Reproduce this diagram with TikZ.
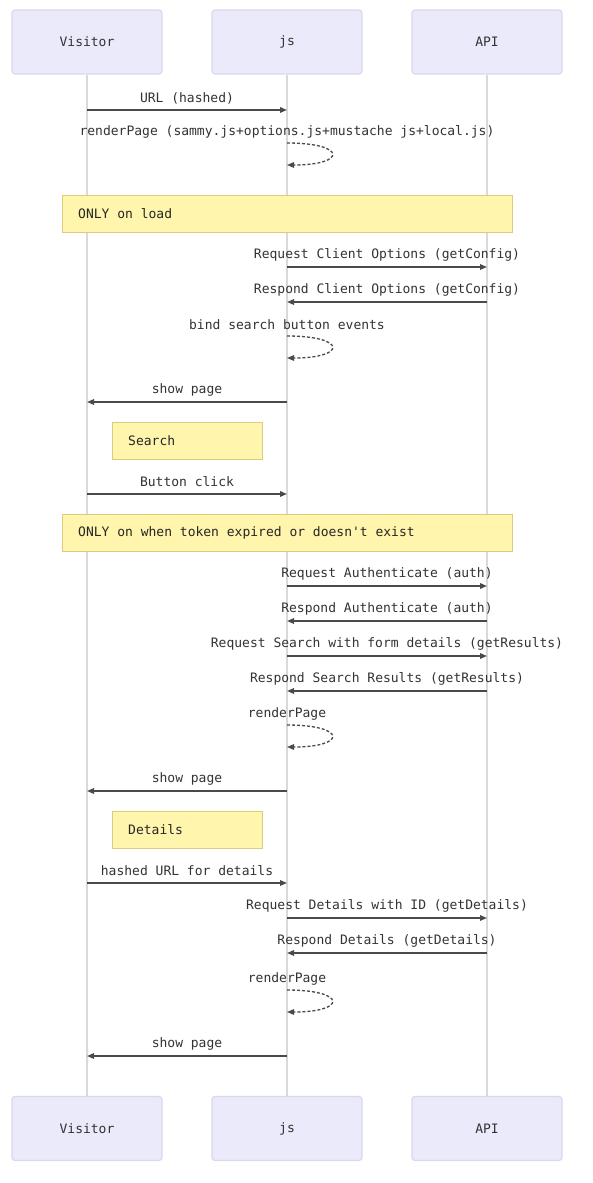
\documentclass[tikz,border=0pt]{standalone}
\usepackage{fontspec}
\setmonofont{DejaVu Sans Mono}
\usetikzlibrary{arrows.meta}
\definecolor{actfill}{HTML}{EAEAFB}
\definecolor{actdraw}{HTML}{D8D8EE}
\definecolor{notefill}{HTML}{FFF5AD}
\definecolor{notedraw}{HTML}{D9CD7C}
\definecolor{lifec}{HTML}{D9D9D9}
\definecolor{msgc}{HTML}{4A4A4A}
\definecolor{txtc}{HTML}{333333}
\tikzset{
  actor/.style={draw=actdraw, fill=actfill, line width=1.2pt, rounded corners=3pt,
    minimum width=150pt, minimum height=64pt, font=\ttfamily\fontsize{13}{15}\selectfont, text=txtc},
  life/.style={draw=lifec, line width=1.5pt},
  notebox/.style={draw=notedraw, fill=notefill, line width=1.2pt, anchor=north west,
    minimum height=37pt, inner sep=0pt},
  notetext/.style={anchor=west, inner sep=0pt, font=\ttfamily\fontsize{13}{15}\selectfont, text=black!85},
  msg/.style={draw=msgc, line width=1.6pt, -{Triangle[length=7pt,width=5.5pt]}},
  msgdash/.style={msg, line width=1.3pt, dash pattern=on 3pt off 2pt},
  lbl/.style={font=\ttfamily\fontsize{13}{15}\selectfont, text=txtc, inner sep=0pt}
}
\newcommand\msgline[4]{%
  \coordinate (s#1) at (#2,#1);
  \coordinate (e#1) at (#3,#1);
  \draw[msg] (s#1) -- node[lbl, midway, yshift=12pt] {#4} (e#1);}
\newcommand\selfloop[2]{%
  \coordinate (ls#1) at (287,#1);
  \coordinate (le#1) at (287,#1+22);
  \node[lbl] (t#1) at (287,#1-11) {#2};
  \draw[msgdash] (ls#1) .. controls (347,#1) and (347,#1+22) .. (le#1);}
\newcommand\notebox[4]{% name, x, y, width, text
  \node[notebox, minimum width=#4pt] (#1) at (#2) {};
  \node[notetext] (#1t) at ([xshift=16pt]#1.west) {\notetxt};}
\begin{document}
\begin{tikzpicture}[x=1pt,y=-1pt]
\useasboundingbox[fill=white] (0,0) rectangle (592,1183);
\path (87,42) node[actor] (vT) {Visitor}
      (287,42) node[actor] (jT) {js}
      (487,42) node[actor] (aT) {API}
      (87,1128.5) node[actor] (vB) {Visitor}
      (287,1128.5) node[actor] (jB) {js}
      (487,1128.5) node[actor] (aB) {API};
\draw[life] (vT.south) -- (vB.north);
\draw[life] (jT.south) -- (jB.north);
\draw[life] (aT.south) -- (aB.north);
% notes
\node[notebox, minimum width=450pt] (n1) at (62,195) {};
\node[notetext] (n1t) at ([xshift=16pt]n1.west) {ONLY on load};
\node[notebox, minimum width=150pt] (n2) at (112,422) {};
\node[notetext] (n2t) at ([xshift=16pt]n2.west) {Search};
\node[notebox, minimum width=450pt] (n3) at (62,514) {};
\node[notetext] (n3t) at ([xshift=16pt]n3.west) {ONLY on when token expired or doesn't exist};
\node[notebox, minimum width=150pt] (n4) at (112,811) {};
\node[notetext] (n4t) at ([xshift=16pt]n4.west) {Details};
% messages
\msgline{110}{87}{287}{URL (hashed)}
\selfloop{143}{renderPage (sammy.js+options.js+mustache js+local.js)}
\msgline{267}{287}{487}{Request Client Options (getConfig)}
\msgline{302}{487}{287}{Respond Client Options (getConfig)}
\selfloop{336}{bind search button events}
\msgline{402}{287}{87}{show page}
\msgline{494}{87}{287}{Button click}
\msgline{586}{287}{487}{Request Authenticate (auth)}
\msgline{621}{487}{287}{Respond Authenticate (auth)}
\msgline{656}{287}{487}{Request Search with form details (getResults)}
\msgline{691}{487}{287}{Respond Search Results (getResults)}
\selfloop{725}{renderPage}
\msgline{791}{287}{87}{show page}
\msgline{883}{87}{287}{hashed URL for details}
\msgline{918}{287}{487}{Request Details with ID (getDetails)}
\msgline{953}{487}{287}{Respond Details (getDetails)}
\selfloop{990}{renderPage}
\msgline{1056}{287}{87}{show page}
\end{tikzpicture}
\end{document}
